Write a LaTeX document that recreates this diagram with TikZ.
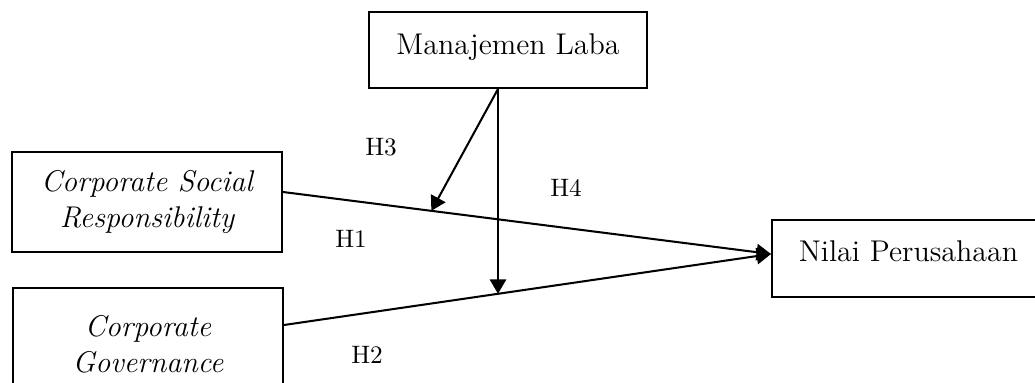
\documentclass[tikz,border=0pt]{standalone}
\usetikzlibrary{arrows.meta,calc}

\begin{document}
\begin{tikzpicture}[x=0.4167pt,y=-0.4167pt,
  box/.style={draw,line width=0.85pt,inner sep=0pt,font=\fontsize{12.5}{15}\selectfont},
  link/.style={line width=0.85pt,-{Triangle[length=6pt,width=6.8pt]}},
  hyp/.style={font={\fontsize{10.5}{12}\selectfont},inner sep=0pt}]
\useasboundingbox (0,0) rectangle (1035,383);

% variables
\node[box,minimum width=115.8pt,text height=17.9pt,text depth=13.75pt] (ml) at (508,50) {Manajemen Laba};
\node[box,minimum width=112.5pt,minimum height=41.7pt,align=center] (csr) at (147,202)
  {\itshape Corporate Social\\\itshape Responsibility};
\node[box,minimum width=112.5pt,minimum height=46.7pt,align=center] (cg) at (148,344)
  {\itshape Corporate\\\itshape Governance};
\node[box,minimum width=113.75pt,text height=17.5pt,text depth=14.6pt] (np) at (908.5,258.5) {Nilai Perusahaan};

% connector end points
\coordinate (csrout) at ($(csr.east)+(0,-10)$);
\coordinate (cgout) at ($(cg.east)+(0,-19)$);
\coordinate (npin) at ($(np.west)+(0,-4.5)$);
\coordinate (mlout) at ($(ml.south)+(-10,0)$);

% direct effects
\draw[link] (csrout) -- (npin);
\draw[link] (cgout) -- (npin);

% moderating effects
\coordinate (m1) at ($(csrout)!0.304!(npin)$);
\coordinate (m2) at ($(cgout)!0.4397!(npin)$);
\draw[link] (mlout) -- (m1);
\draw[link] (mlout) -- (mlout |- m2);

% hypothesis labels
\node[hyp] (h3) at (381,147) {H3};
\node[hyp] (h4) at (566,188) {H4};
\node[hyp] (h1) at (351,239) {H1};
\node[hyp] (h2) at (367,355) {H2};
\end{tikzpicture}
\end{document}
